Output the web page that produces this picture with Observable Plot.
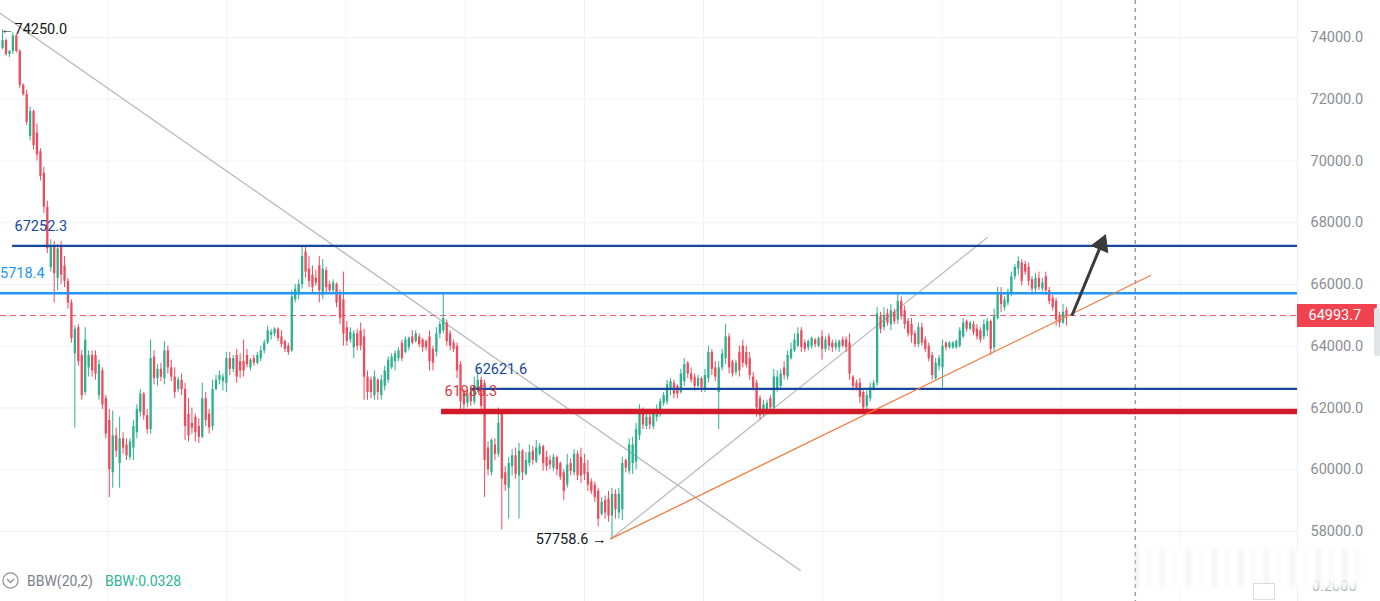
<!DOCTYPE html>
<html><head><meta charset="utf-8">
<script src="https://cdn.jsdelivr.net/npm/d3@7"></script>
<script src="https://cdn.jsdelivr.net/npm/@observablehq/plot@0.6"></script>
<style>
html,body{margin:0;padding:0;background:#fff;overflow:hidden;}
#wrap{position:relative;width:1380px;height:601px;font-family:Roboto,"Noto Sans",sans-serif;}
#wrap svg.main{position:absolute;left:0;top:0;display:block;}
.ov{position:absolute;}
</style></head><body>
<div id="wrap"></div>
<script>
// ---- candle data (BTC, index order) ----
const open = [
73650,73900,73450,73550,74050,73550,72450,72150,70800,71600,
70900,70300,69600,68500,66550,67250,66200,67200,66600,66100,
65400,63750,64600,63700,62500,63300,63700,63700,62400,63200,
62300,61600,59900,61100,60200,61000,60800,60400,60700,61200,
61850,62450,61750,61300,63650,62950,63250,62950,63850,63300,
63000,62600,62900,62600,61800,61500,61700,61400,61050,62300,
61800,61400,62600,62900,62850,62800,63600,63250,63700,63500,
63500,63700,63300,63600,63450,63600,63850,64100,64350,64400,
64550,64300,64150,64000,63850,65500,65650,66000,67050,66500,
66300,66200,66600,65650,66450,66000,65800,66000,65650,65500,
64600,64200,63950,64400,64500,64300,63000,62900,62400,62900,
62400,62700,62900,63300,63500,63600,64100,63800,63950,64300,
64150,64300,64200,64150,64300,63900,63800,64400,64500,64750,
64400,64100,64000,63400,62500,62150,62500,62200,62600,62900,
62800,60700,59900,60800,60500,61800,59900,59400,60100,60450,
59800,60600,59850,60200,60600,60250,60500,60750,60400,60300,
60050,60400,60200,59900,59500,60200,59900,60500,60400,60200,
59900,59600,59500,59300,58550,59000,59050,58500,59200,58600,
58700,60300,59950,60200,60250,61100,61900,61400,61700,61400,
61700,61850,62150,62200,62600,62800,62700,62500,62850,63450,
63100,63000,62700,62950,62600,62950,63800,63300,62500,63300,
63600,64300,63500,63150,63800,64000,63800,63600,63000,62800,
62300,61800,61900,62300,62000,62600,62700,63300,63000,63600,
63850,64000,64500,64100,63950,64000,64200,64000,64300,63900,
64300,64100,63950,63950,64200,64200,64100,63000,62800,62800,
62500,62050,62300,62600,62800,64950,64600,65050,64700,65100,
64850,65450,65150,64800,64700,64400,64050,64600,64200,64000,
63700,62950,63350,63300,64100,63950,63950,63950,64000,64300,
64800,64550,64700,64550,64500,64300,64500,64800,63950,64900,
65700,65250,65400,65700,66250,66500,66700,66650,66550,66150,
65850,66200,65850,66250,65800,65550,65450,65000,64750,65150];
const high = [
74250,73950,73580,74150,74100,73600,72500,72300,71750,71650,
71200,70400,69800,68700,67450,67400,67300,67400,66900,66200,
65500,64650,64700,63850,64600,63850,63850,63850,63550,63300,
62400,61950,61900,61350,61700,61200,61000,61000,61600,62100,
62600,62500,61950,64200,63850,63400,63450,64150,64000,63550,
63300,63000,63100,62800,62300,62000,61800,61650,62800,62500,
61950,62900,63050,63200,63100,63800,63800,63700,63900,63750,
64200,63900,63600,63700,63800,64000,64200,64650,64550,64600,
64600,64500,64200,64100,65800,66000,66150,67250,67250,66900,
66600,66450,66900,66800,66550,66100,66150,66050,65800,66400,
64800,64600,64500,64550,64750,64550,63200,63000,63200,62950,
63050,63350,63650,63750,63850,63950,64200,64300,64300,64500,
64500,64400,64250,64200,64500,64000,64600,64800,65700,64850,
64500,64200,64100,63500,62600,62600,62650,63000,63200,63000,
62900,60900,61000,61000,62000,61950,60100,60400,60650,60700,
60850,60650,60550,60800,60750,60950,60850,60800,60600,60450,
60500,60450,60250,60000,60500,60350,60650,60600,60700,60500,
60300,59700,59600,59400,59100,59150,59300,59400,59350,59400,
60400,60350,61000,61050,61500,62100,62000,61800,61800,61900,
62100,62300,62500,62900,62950,62900,62750,63250,63600,63500,
63300,63100,63050,63000,63250,64000,63900,63500,63500,63900,
64700,64400,63550,63550,64000,64200,64000,63800,63150,62900,
62400,62250,62250,62400,63250,63200,63250,63500,63850,64100,
64400,64600,64600,64200,64200,64300,64250,64300,64500,64300,
64400,64200,64200,64200,64300,64300,64400,63050,62900,62950,
62550,62550,62800,62900,65250,65100,65250,65200,65350,65200,
65700,65600,65300,64900,64900,64500,64750,64750,64300,64100,
63800,63600,63700,64200,64150,64150,64150,64200,64600,64900,
64850,64800,64800,64700,64600,64850,64900,64850,65200,65900,
65900,65600,65850,66400,66650,66900,66800,66750,66700,66250,
66350,66400,66200,66400,65900,65650,65550,65100,65350,65250];
const low = [
73600,73400,73350,73450,73500,72350,72100,71150,70650,70350,
70000,69350,68300,67000,66400,65400,65800,66000,65900,65200,
64100,61350,63350,62250,62400,63000,63000,62900,62250,61950,
61000,59100,59400,60400,59400,60500,60300,60300,60300,61000,
61700,61600,61150,61150,62750,62700,62850,62750,63100,62850,
62300,62500,62400,60950,60900,61150,60900,60850,61000,61400,
61150,61250,62550,62750,62550,62500,63050,63150,62800,62950,
63000,63300,63200,63350,63400,63500,63750,64050,64200,64300,
64150,63950,63800,63700,63800,65400,65500,65850,66200,65900,
65700,65950,65400,65500,65700,65700,65700,65250,64700,64000,
64000,64100,63600,63850,63850,62250,62250,62300,62250,62250,
62250,62550,62800,63250,63200,63500,63500,63750,63850,64050,
64100,63950,63800,63850,63200,63200,63650,64250,64400,64000,
63850,63800,62950,61950,61900,62000,62050,62100,62500,61900,
59100,59800,59800,60300,60400,58050,59300,58400,59800,59700,
58400,59650,59800,60100,60150,60200,60450,59950,59950,60000,
59950,59800,59650,59000,59400,59800,59800,59650,59550,59650,
59300,59200,58950,58150,58500,58400,58300,57758.6,58400,58400,
58350,59900,59850,59850,60000,60950,61300,61300,61300,61300,
61550,61700,62050,62100,62400,62300,62300,62450,62700,62950,
62800,62550,62650,62500,62500,62800,63050,62850,61300,63200,
63400,63100,63000,63050,63000,63300,63300,62900,62550,61700,
61600,61700,61800,61850,61850,62500,62600,62900,62900,63550,
63800,63950,63800,63800,63850,63900,63950,63950,63550,63800,
63850,63800,63850,63800,63950,63800,62900,62550,62550,62150,
61850,61950,62200,62550,62700,64400,64500,64650,64500,64700,
64700,64850,64550,64300,64100,63950,63950,64000,63800,63500,
62900,62900,63200,62650,63850,63900,63900,63900,63950,64250,
64450,64500,64350,64200,64100,64200,64300,63700,63800,64850,
65100,65150,65300,65600,66150,66300,65950,66300,65950,65750,
65750,65800,65750,65650,65350,65150,64650,64600,64700,64650];
const close = [
73900,73450,73550,74050,73550,72450,72150,71250,71600,70500,
70200,69500,68500,67150,67250,66350,67150,66300,66100,65400,
64250,64550,63500,62400,64200,63700,63200,63100,63400,62100,
61150,60000,61100,60600,61000,60700,60450,60900,61400,61950,
62450,61750,61300,63600,62950,63250,63000,63850,63300,63000,
62500,62900,62600,61400,61100,61350,61200,61050,62300,61600,
61350,62600,62900,63050,63000,63600,63250,63600,63000,63200,
63200,63400,63550,63450,63700,63850,64100,64500,64450,64550,
64250,64050,63900,63800,65600,65850,66000,66900,66400,66100,
65900,66050,65800,66500,65900,65800,66050,65400,64900,64400,
64150,64450,64400,64000,64000,63000,62500,62500,63000,62500,
62900,63200,63550,63650,63750,63850,63600,64200,64250,64100,
64400,64050,63950,63950,63500,63450,64400,64700,64900,64150,
64000,63900,63200,62200,62100,62450,62200,62700,62900,62050,
60300,60000,60950,60500,61500,59700,59500,60200,60450,59850,
60600,59900,60300,60550,60300,60700,60750,60200,60100,60150,
60400,60000,59750,59300,60150,59950,60500,59800,59800,59850,
59500,59300,59100,58400,58950,58600,58500,59200,58700,59200,
60200,60050,60800,60800,61300,61950,61450,61700,61450,61800,
61950,62200,62400,62750,62850,62450,62450,63100,63400,63100,
62900,62700,62950,62650,63050,63800,63250,63000,63300,63750,
64300,63300,63100,63450,63200,63450,63400,63050,62650,62000,
61750,62100,62150,62000,63000,63000,63100,63050,63700,63900,
64200,64400,63950,63900,64150,64250,64050,64250,63900,64200,
64000,63950,64100,64150,64000,63950,63100,62700,62650,62350,
62000,62400,62650,62800,65050,64550,65000,64750,65150,64800,
65450,65000,64700,64400,64350,64050,64600,64100,63900,63600,
63050,63450,63600,64000,63950,64100,64100,64150,64500,64750,
64550,64750,64450,64300,64200,64700,64800,63900,64950,65700,
65350,65500,65750,66250,66550,66750,66100,66400,66100,65850,
66200,65900,66050,65800,65450,65250,64850,64750,65100,64993.7];

// price axis ticks
const priceTicks = [58000, 60000, 62000, 64000, 66000, 68000, 70000, 72000, 74000];
// time grid (candle index)
const timeGrid = [30.5, 65.1, 99.7, 134.4, 169.0, 203.6, 238.2, 272.9, 307.5, 342.1];

// horizontal levels (price, first candle index)
const levelPrice = [67252.3, 65718.4, 62621.6, 61986.3];
const levelStart = [2.9, -0.6, 135.9, 127.5];
const levelText  = ["67252.3", "65718.4", "62621.6", "61986.3"];

// pivot labels
const swingHigh = 74250.0, swingHighIdx = -0.6;
const swingLow = 57758.6, swingLowIdx = 175.4;

// drawn trend lines (index, price)
const descLine = [{i: -0.6, p: 74777}, {i: 231.7, p: 56736}];
const riseLineGray = [{i: 176.6, p: 57758.6}, {i: 286.0, p: 67522}];
const riseLineOrange = [{i: 176.6, p: 57758.6}, {i: 333.4, p: 66291}];
const arrowShaft = [{i1: 310.6, p1: 64994, i2: 318.7, p2: 67188}];
const arrowHead = [{i: 319.2, p: 67300}];
const cursorIdx = 329.0;

const lastPrice = close[close.length - 1];

const N = close.length;
const idx = d3.range(N);
const up = idx.filter(i => close[i] >= open[i]);
const dn = idx.filter(i => close[i] < open[i]);
const xDomain = [-0.6, 376.1];
const GREEN = "#2db08e", RED = "#ee4b5c";
const DARKBLUE = "#17479d", LIGHTBLUE = "#2196f3", LEVELRED = "#d11a2a";

const lv = levelPrice.map((p, k) => ({p, s: levelStart[k], t: levelText[k]}));

const chart = Plot.plot({
  width: 1380, height: 601,
  marginLeft: 0, marginRight: 83, marginTop: 0, marginBottom: 0,
  x: {domain: xDomain, axis: null},
  y: {domain: [55732, 75198], axis: null},
  style: {fontFamily: "Roboto, 'Noto Sans', sans-serif", background: "transparent"},
  marks: [
    Plot.gridY(priceTicks, {stroke: "#f1f2f4", strokeOpacity: 1}),
    Plot.gridX(timeGrid, {stroke: "#f1f2f4", strokeOpacity: 1}),
    Plot.ruleX([0], {x: () => xDomain[1], stroke: "#f0f0f0"}),
    // trend lines behind
    Plot.line(descLine, {x: "i", y: "p", stroke: "#b7b7b7", strokeWidth: 1.3}),
    Plot.line(riseLineGray, {x: "i", y: "p", stroke: "#bdbdbd", strokeWidth: 1.3}),
    // last price dashed
    Plot.ruleY([lastPrice], {stroke: "#e85666", strokeWidth: 1, strokeDasharray: "6,4"}),
    // cursor dashed vertical
    Plot.ruleX([cursorIdx], {stroke: "#9a9da5", strokeWidth: 1.5, strokeDasharray: "4,4"}),
    // candles: wicks then bodies
    Plot.ruleX(up, {x: i => i, y1: i => low[i], y2: i => high[i], stroke: GREEN, strokeWidth: 1}),
    Plot.ruleX(dn, {x: i => i, y1: i => low[i], y2: i => high[i], stroke: RED, strokeWidth: 1}),
    Plot.ruleX(up, {x: i => i, y1: i => open[i], y2: i => close[i], stroke: GREEN, strokeWidth: 2.3}),
    Plot.ruleX(dn, {x: i => i, y1: i => open[i], y2: i => close[i], stroke: RED, strokeWidth: 2.3}),
    // levels
    Plot.ruleY([lv[0]], {y: "p", x1: "s", x2: () => xDomain[1], stroke: DARKBLUE, strokeWidth: 2.2}),
    Plot.ruleY([lv[1]], {y: "p", x1: "s", x2: () => xDomain[1], stroke: LIGHTBLUE, strokeWidth: 2.6}),
    Plot.ruleY([lv[2]], {y: "p", x1: "s", x2: () => xDomain[1], stroke: DARKBLUE, strokeWidth: 2.2}),
    Plot.ruleY([lv[3]], {y: "p", x1: "s", x2: () => xDomain[1], dy: 3, stroke: LEVELRED, strokeWidth: 5.5}),
    Plot.line(riseLineOrange, {x: "i", y: "p", stroke: "#f47b3f", strokeWidth: 1.3}),
    // arrow with filled head
    Plot.link(arrowShaft, {x1: "i1", y1: "p1", x2: "i2", y2: "p2", stroke: "#3a3a3a", strokeWidth: 3}),
    Plot.dot(arrowHead, {x: "i", y: "p", symbol: "triangle", r: 6.5, rotate: 23, fill: "#3a3a3a", stroke: "#3a3a3a", strokeWidth: 1}),
    // level labels
    Plot.text([lv[0]], {x: "s", y: "p", text: "t", dx: 2, dy: -19, textAnchor: "start", fill: DARKBLUE, fontSize: 14.5}),
    Plot.text([lv[1]], {x: () => 12.2, y: "p", text: "t", dy: -20, textAnchor: "end", fill: LIGHTBLUE, fontSize: 14.5}),
    Plot.text([lv[2]], {x: "s", y: "p", text: "t", dx: 4, dy: -19, textAnchor: "start", fill: DARKBLUE, fontSize: 14.5}),
    Plot.text([lv[3]], {x: "s", y: "p", text: "t", dx: 3, dy: -17, textAnchor: "start", fill: "#d43a3a", fontSize: 14.5}),
    Plot.text([swingHigh], {x: () => swingHighIdx, y: d => d, text: () => "\u2190", textAnchor: "start", fill: "#131722", fontSize: 13}),
    Plot.text([swingHigh], {x: () => swingHighIdx, y: d => d, dx: 14, text: d => d.toFixed(1), textAnchor: "start", fill: "#131722", fontSize: 14.5}),
    Plot.text([swingLow], {x: () => swingLowIdx, y: d => d, text: d => d.toFixed(1) + " \u2192", textAnchor: "end", fill: "#131722", fontSize: 14.5}),
    // price axis
    Plot.axisY(priceTicks, {anchor: "right", tickSize: 0, tickPadding: 13, tickFormat: d => d.toFixed(1), fill: "#8a8d94", fontSize: 14.5, label: null}),
    // last price tag
    Plot.ruleY([lastPrice], {x1: () => xDomain[1], x2: () => xDomain[1] + 23.2, stroke: "#f0434f", strokeWidth: 23}),
    Plot.text([lastPrice], {x: () => xDomain[1], y: d => d, dx: 11, text: d => d.toFixed(1), textAnchor: "start", fill: "#ffffff", fontSize: 14.5})
  ]
});
chart.classList.add("main");
const wrap = document.getElementById("wrap");
wrap.appendChild(chart);

// indicator pane chrome
wrap.insertAdjacentHTML("beforeend", `
<div class="ov" style="left:1312px;top:578px;font-size:14.5px;color:#a5a8ad;">0.2000</div>
<div class="ov" style="left:1135px;top:548px;width:232px;height:40px;filter:blur(2px);
 background:repeating-linear-gradient(90deg, rgba(215,215,218,0.45) 0 3px, rgba(255,255,255,0.95) 3px 13px, rgba(235,235,237,0.5) 13px 15px, rgba(255,255,255,0.95) 15px 26px);"></div>
<div class="ov" style="left:1253px;top:583px;width:20px;height:15px;border:1px solid #ddd;background:#fff;"></div>
<div class="ov" style="left:1374px;top:308px;width:6px;height:48px;background:#e3e4e6;border-radius:2px;"></div>
<div class="ov" style="left:2px;top:572px;display:flex;align-items:center;font-size:14px;">
  <svg width="17" height="17" viewBox="0 0 17 17"><circle cx="8.5" cy="8.5" r="7.6" fill="none" stroke="#8b8e95" stroke-width="1.2"/><path d="M5 7 L8.5 10.5 L12 7" fill="none" stroke="#8b8e95" stroke-width="1.3"/></svg>
  <span style="color:#7b7f88;margin-left:8px">BBW(20,2)</span>
  <span style="color:#2bb597;margin-left:12px">BBW:0.0328</span>
</div>`);
</script>
</body></html>
